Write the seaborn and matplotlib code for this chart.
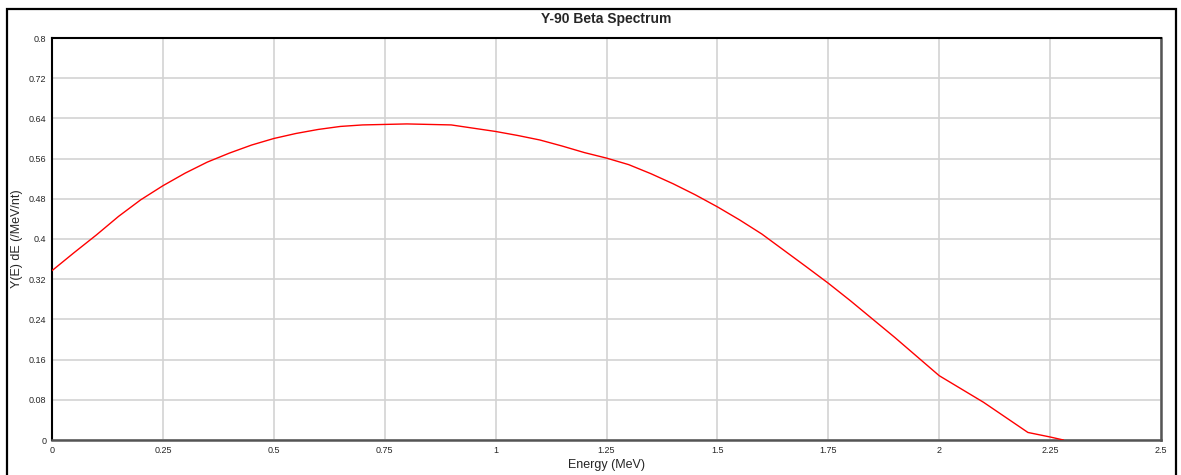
"""Y-90 beta spectrum chart."""
import pandas as pd
import matplotlib
matplotlib.use("Agg")
import matplotlib.pyplot as plt
import seaborn as sns
from matplotlib.patches import Rectangle

energy = [0.0, 0.05, 0.1, 0.15, 0.2, 0.25, 0.3, 0.35, 0.4, 0.45, 0.5, 0.55,
          0.6, 0.65, 0.7, 0.8, 0.9, 1.0, 1.05, 1.1, 1.15, 1.2, 1.25, 1.3,
          1.35, 1.4, 1.45, 1.5, 1.55, 1.6, 1.7, 1.75, 1.8, 1.9, 2.0, 2.1,
          2.2, 2.25, 2.28]
yield_ = [0.337, 0.373, 0.408, 0.445, 0.478, 0.506, 0.531, 0.553, 0.571,
          0.587, 0.600, 0.610, 0.618, 0.624, 0.627, 0.629, 0.627, 0.614,
          0.606, 0.597, 0.585, 0.572, 0.561, 0.548, 0.530, 0.510, 0.488,
          0.464, 0.438, 0.410, 0.345, 0.312, 0.277, 0.204, 0.128, 0.075,
          0.015, 0.006, 0.0]
x_ticks = [0, 0.25, 0.5, 0.75, 1, 1.25, 1.5, 1.75, 2, 2.25, 2.5]
x_labels = ["0", "0.25", "0.5", "0.75", "1", "1.25", "1.5", "1.75", "2",
            "2.25", "2.5"]
y_ticks = [0, 0.08, 0.16, 0.24, 0.32, 0.4, 0.48, 0.56, 0.64, 0.72, 0.8]
y_labels = ["0", "0.08", "0.16", "0.24", "0.32", "0.4", "0.48", "0.56",
            "0.64", "0.72", "0.8"]

sns.set_style("white")
plt.rcParams["font.family"] = ["Liberation Sans", "DejaVu Sans"]

df = pd.DataFrame({"energy": energy, "yield": yield_})

fig = plt.figure(figsize=(11.81, 4.75), dpi=100)
ax = fig.add_axes([52 / 1181, 1 - 440 / 475, 1109 / 1181, 402 / 475])

sns.lineplot(data=df, x="energy", y="yield", color="red", linewidth=1.0,
             ax=ax, zorder=3)

ax.set_xlim(0, 2.5)
ax.set_ylim(0, 0.8)
ax.set_xticks(x_ticks)
ax.set_xticklabels(x_labels)
ax.set_yticks(y_ticks)
ax.set_yticklabels(y_labels)
ax.tick_params(axis="both", length=0, labelsize=6.5, pad=4)
ax.grid(True, color="#d3d3d3", linewidth=1.2)
ax.set_axisbelow(True)
for side in ["left", "top"]:
    ax.spines[side].set_color("black")
    ax.spines[side].set_linewidth(1.5)
for side in ["right", "bottom"]:
    ax.spines[side].set_color("#555555")
    ax.spines[side].set_linewidth(1.8)

ax.set_xlabel("Energy (MeV)", fontsize=9)
ax.xaxis.set_label_coords(0.5, -19 / 402)
ax.set_ylabel("Y(E) dE (/MeV/nt)", fontsize=9)
ax.yaxis.set_label_coords(-29 / 1109, 0.5)
ax.set_title("Y-90 Beta Spectrum", fontsize=10, fontweight="bold", pad=11)

# outer frame around the whole chart
fig.patches.append(Rectangle((7 / 1181, -0.02), 1169 / 1181, 1 - 9 / 475 + 0.02,
                             transform=fig.transFigure, fill=False,
                             edgecolor="black", linewidth=1.6))

fig.savefig("out.png", dpi=100)
